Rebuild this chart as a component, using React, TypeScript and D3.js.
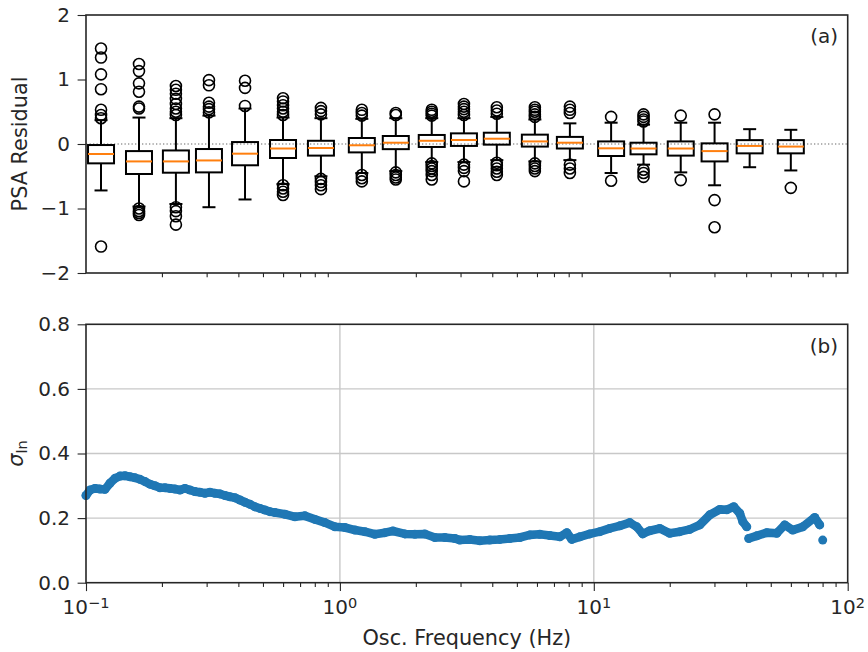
import React, { useEffect, useRef } from "react";
import * as d3 from "d3";

// panel (a): residual boxplots per frequency bin
const boxFreqs = [0.1146, 0.1617, 0.226, 0.305, 0.423, 0.597, 0.842, 1.22, 1.66, 2.3, 3.08, 4.15, 5.86, 8.05, 11.7, 15.7, 22.0, 29.9, 41.1, 59.7];
const boxQ1 = [-0.30, -0.465, -0.445, -0.44, -0.33, -0.217, -0.18, -0.13, -0.08, -0.046, -0.03, -0.01, -0.04, -0.07, -0.186, -0.16, -0.18, -0.27, -0.145, -0.145];
const boxMedian = [-0.155, -0.27, -0.27, -0.255, -0.15, -0.07, -0.062, -0.02, 0.02, 0.05, 0.062, 0.082, 0.04, 0.02, -0.067, -0.07, -0.07, -0.11, -0.03, -0.04];
const boxQ3 = [-0.016, -0.11, -0.10, -0.078, 0.03, 0.062, 0.05, 0.093, 0.124, 0.14, 0.165, 0.175, 0.145, 0.11, 0.04, 0.02, 0.04, 0.01, 0.06, 0.06];
const whiskerLow = [-0.72, -0.97, -0.93, -0.98, -0.86, -0.62, -0.50, -0.45, -0.42, -0.28, -0.28, -0.25, -0.27, -0.25, -0.45, -0.32, -0.44, -0.64, -0.36, -0.41];
const whiskerHigh = [0.37, 0.41, 0.40, 0.44, 0.55, 0.41, 0.40, 0.39, 0.40, 0.40, 0.40, 0.42, 0.38, 0.32, 0.33, 0.30, 0.33, 0.33, 0.23, 0.22];
const outliers = [
  [0.40, 0.45, 0.53, 0.85, 1.08, 1.34, 1.48, -1.59],
  [1.24, 1.13, 0.94, 0.81, 0.58, 0.55, -1.0, -1.04, -1.07, -1.10],
  [0.90, 0.84, 0.78, 0.70, 0.62, 0.55, 0.50, 0.45, -0.98, -1.04, -1.12, -1.25],
  [0.99, 0.91, 0.64, 0.58, 0.54, 0.49],
  [0.98, 0.87, 0.59],
  [0.71, 0.66, 0.60, 0.55, 0.50, 0.45, -0.64, -0.69, -0.74, -0.79],
  [0.56, 0.51, 0.46, -0.54, -0.59, -0.64, -0.70],
  [0.53, 0.48, 0.44, -0.48, -0.53, -0.58],
  [0.48, 0.45, -0.44, -0.48, -0.52, -0.55],
  [0.53, 0.50, 0.47, 0.44, -0.30, -0.34, -0.38, -0.42, -0.48, -0.55],
  [0.62, 0.58, 0.54, 0.50, 0.45, -0.32, -0.37, -0.42, -0.58],
  [0.57, 0.52, 0.47, -0.29, -0.33, -0.38, -0.43, -0.48],
  [0.57, 0.53, 0.50, 0.46, 0.42, -0.30, -0.34, -0.38, -0.42],
  [0.58, 0.53, 0.48, -0.32, -0.38, -0.45],
  [0.42, -0.57],
  [0.46, 0.42, 0.38, 0.35, -0.40, -0.45, -0.51],
  [0.44, -0.56],
  [0.46, -0.87, -1.29],
  [],
  [-0.68],
];

// panel (b): sigma_ln vs frequency
const sigmaFreqs = [
  0.1, 0.1037, 0.1085, 0.1135, 0.1188, 0.1243, 0.1301, 0.1361, 0.1424, 0.149,
  0.1559, 0.1632, 0.1708, 0.1786, 0.1869, 0.1956, 0.2046, 0.2141, 0.224, 0.2345,
  0.2453, 0.2567, 0.2686, 0.2811, 0.2941, 0.3077, 0.322, 0.337, 0.3526, 0.3689,
  0.3861, 0.404, 0.4227, 0.4423, 0.4628, 0.4842, 0.5067, 0.5302, 0.5548, 0.6075,
  0.6651, 0.7282, 0.7973, 0.8729, 0.9557, 1.046, 1.146, 1.254, 1.373, 1.504,
  1.617, 1.803, 1.974, 2.161, 2.366, 2.591, 2.836, 2.968, 3.249, 3.558,
  3.895, 4.265, 4.669, 5.112, 5.598, 6.129, 6.711, 7.347, 7.829, 8.192,
  8.81, 9.645, 10.56, 11.56, 12.66, 13.86, 14.77, 15.59, 16.62, 18.19,
  19.92, 21.81, 23.88, 26.15, 28.63, 31.35, 33.39, 35.58, 37.57, 38.61,
  40.04, 40.77, 43.83, 47.99, 52.55, 56.49, 60.73, 66.51, 74.15, 77.59,
  79.72,
];
const sigmaValues = [
  0.27, 0.287, 0.292, 0.29, 0.289, 0.308, 0.323, 0.33, 0.331, 0.328,
  0.325, 0.32, 0.313, 0.305, 0.3, 0.294, 0.294, 0.292, 0.29, 0.287,
  0.292, 0.287, 0.282, 0.28, 0.277, 0.28, 0.277, 0.275, 0.27, 0.266,
  0.263, 0.256, 0.249, 0.243, 0.235, 0.23, 0.225, 0.22, 0.217, 0.212,
  0.204, 0.207, 0.196, 0.186, 0.173, 0.171, 0.163, 0.158, 0.15, 0.155,
  0.16, 0.151, 0.15, 0.151, 0.14, 0.14, 0.137, 0.132, 0.134, 0.13,
  0.132, 0.134, 0.137, 0.14, 0.148, 0.15, 0.146, 0.142, 0.155, 0.134,
  0.142, 0.151, 0.158, 0.168, 0.176, 0.186, 0.173, 0.151, 0.161, 0.168,
  0.153, 0.158, 0.165, 0.179, 0.21, 0.227, 0.226, 0.235, 0.215, 0.189,
  0.173, 0.137, 0.145, 0.155, 0.153, 0.179, 0.163, 0.173, 0.202, 0.179,
  0.132,
];
// frequencies where the scatter breaks into a new run
const sigmaBreaks = [40.77, 79.72];

const topYTicks = [-2, -1, 0, 1, 2];
const bottomYTicks = [0, 0.2, 0.4, 0.6, 0.8];
const decadeTicks = [0.1, 1, 10, 100];
const decadeExponents = ["\u22121", "0", "1", "2"];

const FONT = "DejaVu Sans";
const INK = "#262626";

const App = () => {
  const ref = useRef(null);

  useEffect(() => {
    const width = 868;
    const height = 652;
    const left = 86;
    const right = 847.7;
    const topA = 15, botA = 273;
    const topB = 324.3, botB = 582.7;

    const svg = d3.select(ref.current);
    svg.selectAll("*").remove();
    svg.attr("width", width).attr("height", height).style("font-family", FONT);

    svg.append("rect").attr("width", width).attr("height", height).attr("fill", "white");

    const x = d3.scaleLog().domain([0.1, 100]).range([left, right]);
    const yA = d3.scaleLinear().domain([-2, 2]).range([botA, topA]);
    const yB = d3.scaleLinear().domain([0, 0.8]).range([botB, topB]);

    const minorTicks = x.ticks().filter((t) => !decadeTicks.some((d) => Math.abs(d - t) / d < 1e-6));

    // ---------- panel (a) ----------
    const gA = svg.append("g");

    gA.append("line")
      .attr("x1", left).attr("x2", right)
      .attr("y1", yA(0)).attr("y2", yA(0))
      .attr("stroke", "#666").attr("stroke-width", 1.2)
      .attr("stroke-dasharray", "1.3,2.2");

    const boxes = boxFreqs.map((f, i) => ({
      f, q1: boxQ1[i], med: boxMedian[i], q3: boxQ3[i],
      lo: whiskerLow[i], hi: whiskerHigh[i], out: outliers[i],
    }));
    const halfW = 13;
    const capW = 6.5;

    const bg = gA.selectAll("g.box").data(boxes).join("g").attr("class", "box");
    bg.append("line")
      .attr("x1", (d) => x(d.f)).attr("x2", (d) => x(d.f))
      .attr("y1", (d) => yA(d.q1)).attr("y2", (d) => yA(d.lo))
      .attr("stroke", "black").attr("stroke-width", 2);
    bg.append("line")
      .attr("x1", (d) => x(d.f)).attr("x2", (d) => x(d.f))
      .attr("y1", (d) => yA(d.q3)).attr("y2", (d) => yA(d.hi))
      .attr("stroke", "black").attr("stroke-width", 2);
    bg.append("line")
      .attr("x1", (d) => x(d.f) - capW).attr("x2", (d) => x(d.f) + capW)
      .attr("y1", (d) => yA(d.lo)).attr("y2", (d) => yA(d.lo))
      .attr("stroke", "black").attr("stroke-width", 2);
    bg.append("line")
      .attr("x1", (d) => x(d.f) - capW).attr("x2", (d) => x(d.f) + capW)
      .attr("y1", (d) => yA(d.hi)).attr("y2", (d) => yA(d.hi))
      .attr("stroke", "black").attr("stroke-width", 2);
    bg.append("rect")
      .attr("x", (d) => x(d.f) - halfW).attr("width", halfW * 2)
      .attr("y", (d) => yA(d.q3)).attr("height", (d) => yA(d.q1) - yA(d.q3))
      .attr("fill", "none").attr("stroke", "black").attr("stroke-width", 2);
    bg.append("line")
      .attr("x1", (d) => x(d.f) - halfW).attr("x2", (d) => x(d.f) + halfW)
      .attr("y1", (d) => yA(d.med)).attr("y2", (d) => yA(d.med))
      .attr("stroke", "#ff7f0e").attr("stroke-width", 2);
    bg.selectAll("circle")
      .data((d) => d.out.map((v) => ({ f: d.f, v })))
      .join("circle")
      .attr("cx", (d) => x(d.f)).attr("cy", (d) => yA(d.v)).attr("r", 5.5)
      .attr("fill", "none").attr("stroke", "black").attr("stroke-width", 1.6);

    // y axis (a)
    gA.append("g")
      .attr("transform", `translate(${left},0)`)
      .call(d3.axisLeft(yA).tickValues(topYTicks).tickFormat(d3.format("d")).tickSize(8.4).tickPadding(7.6))
      .call((g) => g.select(".domain").remove());

    // minor x ticks only on (a)
    gA.append("g").selectAll("line").data(minorTicks).join("line")
      .attr("x1", (d) => x(d)).attr("x2", (d) => x(d))
      .attr("y1", botA).attr("y2", botA + 4.2)
      .attr("stroke", INK).attr("stroke-width", 1.1);

    gA.append("rect")
      .attr("x", left).attr("y", topA).attr("width", right - left).attr("height", botA - topA)
      .attr("fill", "none").attr("stroke", INK).attr("stroke-width", 1.6);

    gA.append("text")
      .attr("x", 838).attr("y", 43).attr("text-anchor", "end")
      .attr("font-size", 20).attr("fill", INK).text("(a)");

    gA.append("text")
      .attr("transform", `translate(26.5,${(topA + botA) / 2}) rotate(-90)`)
      .attr("text-anchor", "middle").attr("font-size", 20.8).attr("fill", INK)
      .text("PSA Residual");

    // ---------- panel (b) ----------
    const gB = svg.append("g");

    gB.append("g").selectAll("line").data([1, 10]).join("line")
      .attr("x1", (d) => x(d)).attr("x2", (d) => x(d))
      .attr("y1", topB).attr("y2", botB)
      .attr("stroke", "#c8c8c8").attr("stroke-width", 1.4);
    gB.append("g").selectAll("line").data([0.2, 0.4, 0.6]).join("line")
      .attr("x1", left).attr("x2", right)
      .attr("y1", (d) => yB(d)).attr("y2", (d) => yB(d))
      .attr("stroke", "#c8c8c8").attr("stroke-width", 1.4);

    const pts = sigmaFreqs.map((f, i) => ({ f, v: sigmaValues[i] }));
    const runs = [];
    let cur = [];
    pts.forEach((p) => {
      if (sigmaBreaks.includes(p.f) && cur.length) {
        runs.push(cur);
        cur = [];
      }
      cur.push(p);
    });
    runs.push(cur);

    const line = d3.line().x((d) => x(d.f)).y((d) => yB(d.v)).curve(d3.curveLinear);
    gB.append("g").selectAll("path").data(runs.filter((r) => r.length > 1)).join("path")
      .attr("d", (d) => line(d))
      .attr("fill", "none").attr("stroke", "#1f77b4").attr("stroke-width", 8.6)
      .attr("stroke-linejoin", "round").attr("stroke-linecap", "round");
    gB.append("g").selectAll("circle").data(pts).join("circle")
      .attr("cx", (d) => x(d.f)).attr("cy", (d) => yB(d.v)).attr("r", 4.5)
      .attr("fill", "#1f77b4");

    gB.append("g")
      .attr("transform", `translate(${left},0)`)
      .call(d3.axisLeft(yB).tickValues(bottomYTicks).tickFormat(d3.format(".1f")).tickSize(8.4).tickPadding(7.6))
      .call((g) => g.select(".domain").remove());

    gB.append("g")
      .attr("transform", `translate(0,${botB})`)
      .call(d3.axisBottom(x).tickValues(decadeTicks).tickSize(8.4).tickFormat(() => ""))
      .call((g) => g.select(".domain").remove());

    gB.append("g").selectAll("line").data(minorTicks).join("line")
      .attr("x1", (d) => x(d)).attr("x2", (d) => x(d))
      .attr("y1", botB).attr("y2", botB + 4.2)
      .attr("stroke", INK).attr("stroke-width", 1.1);

    const xl = gB.append("g").selectAll("text").data(decadeTicks).join("text")
      .attr("x", (d) => x(d)).attr("y", 614)
      .attr("text-anchor", "middle").attr("font-size", 20).attr("fill", INK);
    xl.append("tspan").text("10");
    xl.append("tspan").attr("dy", -6.5).attr("font-size", 14.5).text((d, i) => decadeExponents[i]);

    gB.append("rect")
      .attr("x", left).attr("y", topB).attr("width", right - left).attr("height", botB - topB)
      .attr("fill", "none").attr("stroke", INK).attr("stroke-width", 1.6);

    gB.append("text")
      .attr("x", 838).attr("y", 353).attr("text-anchor", "end")
      .attr("font-size", 20).attr("fill", INK).text("(b)");

    const sl = gB.append("text")
      .attr("transform", `translate(22.5,${(topB + botB) / 2}) rotate(-90)`)
      .attr("text-anchor", "middle").attr("font-size", 20.8).attr("fill", INK);
    sl.append("tspan").attr("font-style", "italic").text("\u03c3");
    sl.append("tspan").attr("dy", 4).attr("font-size", 14.5).text("ln");

    svg.append("text")
      .attr("x", (left + right) / 2).attr("y", 645)
      .attr("text-anchor", "middle").attr("font-size", 20.8).attr("fill", INK)
      .text("Osc. Frequency (Hz)");

    // shared tick styling
    svg.selectAll(".tick line").attr("stroke", INK).attr("stroke-width", 1.1);
    svg.selectAll(".tick text").attr("font-size", 20).attr("fill", INK).attr("font-family", FONT);
  }, []);

  return <svg ref={ref} style={{ position: "absolute", left: 0, top: 0 }} />;
};

export default App;
